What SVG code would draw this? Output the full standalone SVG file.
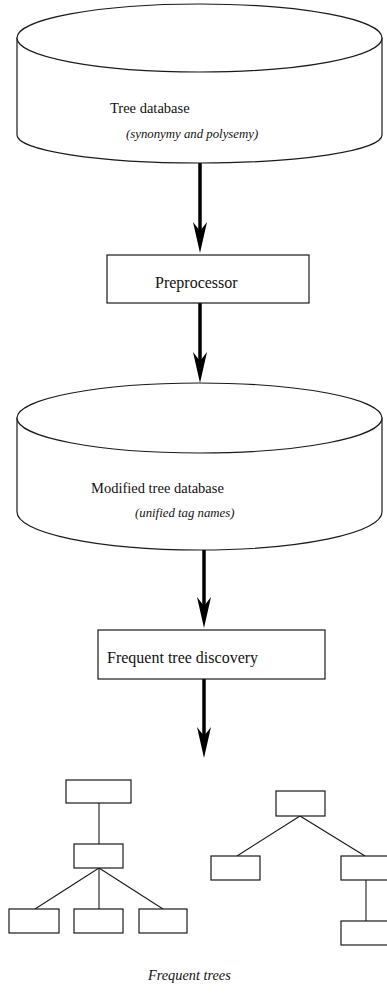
<svg xmlns="http://www.w3.org/2000/svg" width="387" height="993" viewBox="0 0 387 993">
  <style>
    .shape { fill: #fff; stroke: #1a1a1a; stroke-width: 1.2; }
    .edge { fill: none; stroke: #1a1a1a; stroke-width: 1.1; }
    .flow { fill: none; stroke: #000; stroke-width: 3.5; }
    .label { font-family: "Liberation Serif", "Times New Roman", serif; fill: #111; }
    .box { font-size: 16px; }
    .db { font-size: 14.5px; }
    .note { font-size: 12.8px; font-style: italic; }
    .caption { font-size: 14.3px; font-style: italic; }
  </style>
  <defs>
    <marker id="head" viewBox="0 -8 32 16" refX="9" refY="0" markerWidth="32" markerHeight="16" markerUnits="userSpaceOnUse" orient="auto" overflow="visible">
      <path d="M0,-7 L9,0 L0,7 L31,0 Z" fill="#000"/>
    </marker>
  </defs>

  <!-- flow arrows -->
  <g id="connectors">
    <line class="flow" x1="200" y1="163" x2="200" y2="231" marker-end="url(#head)"/>
    <line class="flow" x1="200" y1="303" x2="200" y2="361" marker-end="url(#head)"/>
    <line class="flow" x1="204" y1="550" x2="204" y2="606" marker-end="url(#head)"/>
    <line class="flow" x1="204" y1="679" x2="204" y2="736" marker-end="url(#head)"/>
  </g>

  <g id="tree-database">
    <path class="shape" d="M17,38 L17,135 A182.5,28 0 0 0 382,135 L382,38 Z"/>
    <ellipse class="shape" cx="199.5" cy="38" rx="182.5" ry="34"/>
    <text class="label db" x="110" y="113">Tree database</text>
    <text class="label note" x="126" y="138">(synonymy and polysemy)</text>
  </g>

  <g id="preprocessor">
    <rect class="shape" x="107" y="255" width="202" height="48"/>
    <text class="label box" x="155" y="288">Preprocessor</text>
  </g>

  <g id="modified-database">
    <path class="shape" d="M17,418 L17,512 A182.5,38 0 0 0 382,512 L382,418 Z"/>
    <ellipse class="shape" cx="199.5" cy="418" rx="182.5" ry="35"/>
    <text class="label db" x="91" y="493">Modified tree database</text>
    <text class="label note" x="135" y="517">(unified tag names)</text>
  </g>

  <g id="discovery">
    <rect class="shape" x="98" y="630" width="227" height="49"/>
    <text class="label box" x="107" y="663">Frequent tree discovery</text>
  </g>

  <g id="frequent-trees">
    <g id="tree-a">
      <line class="edge" x1="99" y1="803" x2="99" y2="844"/>
      <line class="edge" x1="99" y1="868" x2="35" y2="909"/>
      <line class="edge" x1="99" y1="868" x2="99" y2="909"/>
      <line class="edge" x1="99" y1="868" x2="163" y2="909"/>
      <rect class="shape" x="66" y="780" width="65" height="23"/>
      <rect class="shape" x="74" y="844" width="49" height="24"/>
      <rect class="shape" x="9" y="909" width="50" height="24"/>
      <rect class="shape" x="74" y="909" width="49" height="24"/>
      <rect class="shape" x="139" y="909" width="48" height="24"/>
    </g>
    <g id="tree-b">
      <line class="edge" x1="300" y1="816" x2="237" y2="856"/>
      <line class="edge" x1="300" y1="816" x2="365" y2="856"/>
      <line class="edge" x1="366" y1="880" x2="366" y2="921"/>
      <rect class="shape" x="276" y="791" width="49" height="25"/>
      <rect class="shape" x="211" y="856" width="49" height="24"/>
      <rect class="shape" x="341" y="856" width="49" height="24"/>
      <rect class="shape" x="341" y="921" width="49" height="24"/>
    </g>
    <text class="label caption" x="148" y="980">Frequent trees</text>
  </g>
</svg>
